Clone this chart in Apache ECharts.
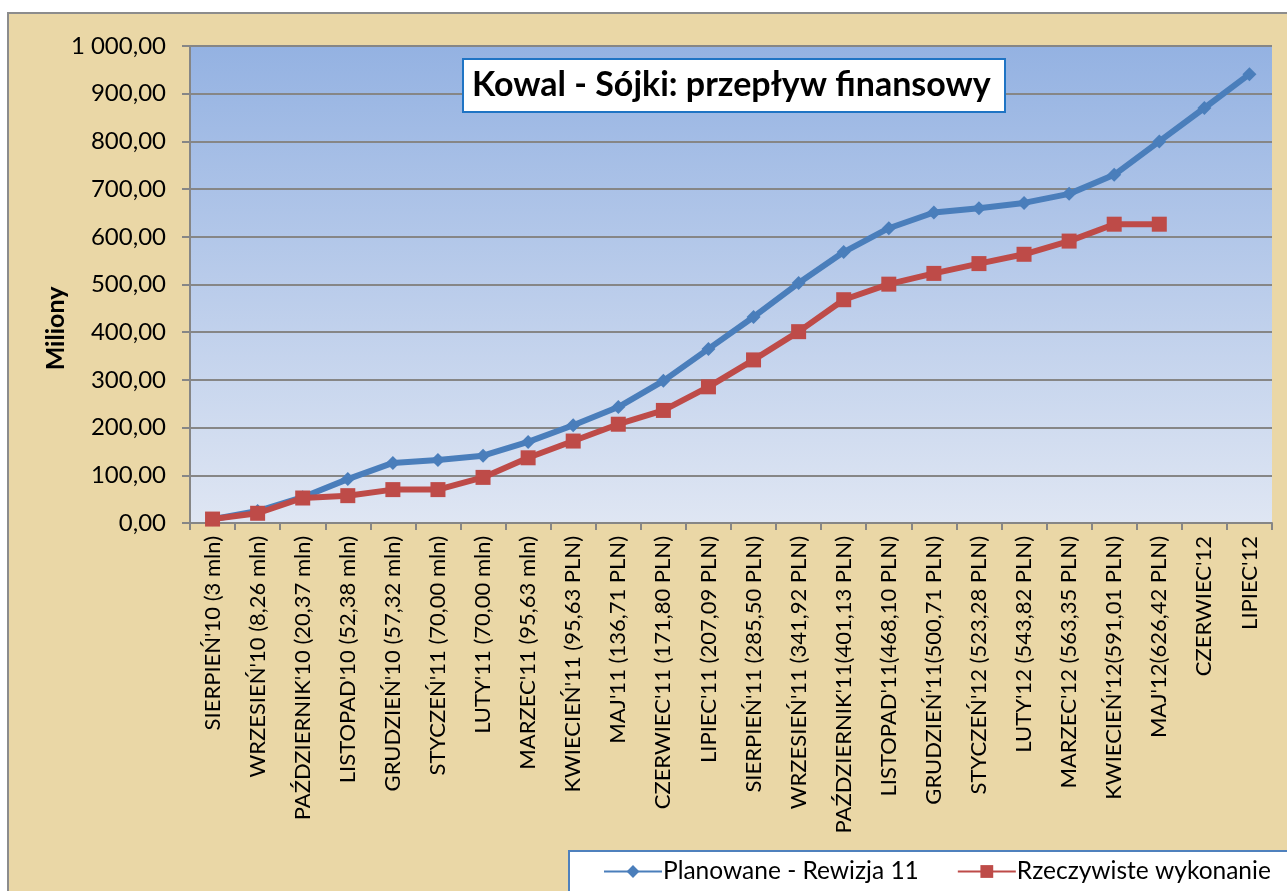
<!DOCTYPE html>
<html>
<head>
<meta charset="utf-8">
<script src="https://cdn.jsdelivr.net/npm/echarts@6/dist/echarts.min.js"></script>
<style>
  html, body { margin: 0; padding: 0; background: #fff; }
  #chart { width: 1287px; height: 891px; }
</style>
</head>
<body>
<div id="chart"></div>
<script>
const months = [
  "SIERPIEŃ'10 (3 mln)", "WRZESIEŃ'10 (8,26 mln)", "PAŹDZIERNIK'10 (20,37 mln)", "LISTOPAD'10 (52,38 mln)",
  "GRUDZIEŃ'10 (57,32 mln)", "STYCZEŃ'11 (70,00 mln)", "LUTY'11 (70,00 mln)", "MARZEC'11 (95,63 mln)",
  "KWIECIEŃ'11 (95,63 PLN)", "MAJ'11 (136,71 PLN)", "CZERWIEC'11 (171,80 PLN)", "LIPIEC'11 (207,09 PLN)",
  "SIERPIEŃ'11 (285,50 PLN)", "WRZESIEŃ'11 (341,92 PLN)", "PAŹDZIERNIK'11(401,13 PLN)", "LISTOPAD'11(468,10 PLN)",
  "GRUDZIEŃ'11(500,71 PLN)", "STYCZEŃ'12 (523,28 PLN)", "LUTY'12 (543,82 PLN)", "MARZEC'12 (563,35 PLN)",
  "KWIECIEŃ'12(591,01 PLN)", "MAJ'12(626,42 PLN)", "CZERWIEC'12", "LIPIEC'12"
]

// Planowane - Rewizja 11
const planned = [8, 25, 54, 92, 126, 132, 141, 170, 205, 243, 298, 365,
  432, 503, 568, 618, 651, 660, 671, 690, 730, 800, 870, 941]

// Rzeczywiste wykonanie
const actual = [8.26, 20.37, 52.38, 57.32, 70, 70, 95.63, 136.71, 171.8, 207.09, 236, 285.5,
  341.92, 401.13, 468.1, 500.71, 523.28, 543.82, 563.35, 591.01, 626.42, 626.42]

const yTicks = [0, 100, 200, 300, 400, 500, 600, 700, 800, 900, 1000]

const fmt = (v) => {
  const parts = v.toFixed(2).split('.')
  const intPart = parts[0].replace(/\B(?=(\d{3})+(?!\d))/g, ' ')
  return intPart + ',' + parts[1]
}

const chart = echarts.init(document.getElementById('chart'))

const font = 'Lato, "Open Sans", "Noto Sans", sans-serif'

const option = {
  backgroundColor: '#ffffff',
  textStyle: { fontFamily: font },
  graphic: [
    {
      type: 'rect',
      z: -10,
      shape: { x: 8, y: 13, width: 1300, height: 900 },
      style: { fill: '#ead7a6', stroke: '#8c8c8c', lineWidth: 2 }
    }
  ],
  title: {
    text: 'Kowal - Sójki: przepływ finansowy',
    left: 463,
    top: 59,
    backgroundColor: '#ffffff',
    borderColor: '#1f74c4',
    borderWidth: 2,
    padding: [9, 14, 10, 9],
    textStyle: {
      fontFamily: font,
      fontSize: 34,
      fontWeight: 'bold',
      color: '#000'
    }
  },
  legend: {
    left: 569,
    top: 851,
    width: 1000,
    backgroundColor: '#ffffff',
    borderColor: '#4f81bd',
    borderWidth: 2,
    padding: [8, 20, 20, 34],
    itemWidth: 58,
    itemHeight: 16,
    itemGap: 38,
    textStyle: { fontFamily: font, fontSize: 24.5, color: '#000', padding: [0, 0, 0, -4] },
    data: ['Planowane - Rewizja 11', 'Rzeczywiste wykonanie']
  },
  grid: {
    left: 190,
    right: 15,
    top: 46,
    bottom: 368,
    backgroundColor: new echarts.graphic.LinearGradient(0, 0, 0, 1, [
      { offset: 0, color: '#94b2e2' },
      { offset: 1, color: '#dfe6f3' }
    ]),
    show: true,
    borderWidth: 0
  },
  xAxis: {
    type: 'category',
    data: months,
    boundaryGap: true,
    axisLine: { lineStyle: { color: '#868686', width: 2 } },
    axisTick: { show: true, length: 7, lineStyle: { color: '#868686', width: 2 } },
    axisLabel: {
      rotate: 90,
      interval: 0,
      margin: 13,
      fontSize: 22,
      color: '#000',
      fontFamily: font
    }
  },
  yAxis: {
    type: 'value',
    min: 0,
    max: 1000,
    interval: 100,
    name: 'Miliony',
    nameLocation: 'middle',
    nameRotate: 90,
    nameGap: 122,
    nameMoveOverlap: false,
    nameTextStyle: {
      fontSize: 25,
      fontWeight: 'bold',
      color: '#000',
      fontFamily: font,
      padding: [0, 88, 0, 0]
    },
    axisLine: { show: true, lineStyle: { color: '#868686', width: 2 } },
    axisTick: { show: true, length: 8, lineStyle: { color: '#868686', width: 2 } },
    splitLine: { lineStyle: { color: '#868686', width: 2 } },
    axisLabel: {
      margin: 24,
      fontSize: 24,
      color: '#000',
      fontFamily: font,
      formatter: (v) => yTicks.includes(v) ? fmt(v) : ''
    }
  },
  series: [
    {
      name: 'Planowane - Rewizja 11',
      type: 'line',
      data: planned,
      symbol: 'diamond',
      symbolSize: 14,
      lineStyle: { color: '#4a7ebb', width: 6 },
      itemStyle: { color: '#4a7ebb' },
      z: 2
    },
    {
      name: 'Rzeczywiste wykonanie',
      type: 'line',
      data: actual,
      symbol: 'rect',
      symbolSize: 15,
      lineStyle: { color: '#be4b48', width: 6 },
      itemStyle: { color: '#be4b48' },
      z: 3
    }
  ]
}

chart.setOption(option)
</script>
</body>
</html>
